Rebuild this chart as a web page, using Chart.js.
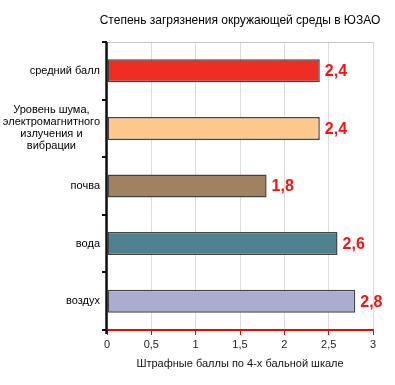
<!DOCTYPE html>
<html>
<head>
<meta charset="utf-8">
<script src="https://cdn.jsdelivr.net/npm/chart.js@4"></script>
<style>
  body { margin: 0; background: #fff; }
  canvas { display: block; }
</style>
</head>
<body>
<canvas id="myChart" width="395" height="385"></canvas>
<script>
const ctx = document.getElementById('myChart');

// данные
var categories = [
  ['средний балл'],
  ['Уровень шума,', 'электромагнитного', 'излучения и', 'вибрации'],
  ['почва'],
  ['вода'],
  ['воздух']
];
var values = [2.4, 2.4, 1.8, 2.6, 2.8];
var barColors = ['#EE2D25', '#FFC98B', '#A08260', '#4F8190', '#A9AECF'];
var xTicks = [0, 0.5, 1, 1.5, 2, 2.5, 3];
var chartTitle = 'Степень загрязнения окружающей среды в ЮЗАО';
var xTitle = 'Штрафные баллы по 4-х бальной шкале';

function fmt(v) {
  return v.toString().replace('.', ',');
}

// подписи, заголовок, рамка, ось категорий
var extras = {
  id: 'extras',
  afterDraw: function(chart) {
    var c = chart.ctx;
    var area = chart.chartArea;
    var yScale = chart.scales.y;
    c.save();

    // верхняя рамка
    c.strokeStyle = '#c8c8c8';
    c.lineWidth = 1;
    c.beginPath();
    c.moveTo(area.left, area.top + 0.5);
    c.lineTo(area.right, area.top + 0.5);
    c.stroke();

    // ось категорий и засечки
    c.strokeStyle = '#111';
    c.lineWidth = 2.5;
    c.beginPath();
    c.moveTo(area.left - 0.5, area.top);
    c.lineTo(area.left - 0.5, area.bottom + 4);
    c.stroke();
    c.lineWidth = 2;
    for (var k = 0; k <= categories.length; k++) {
      var ty = Math.round(yScale.getPixelForValue(k - 0.5));
      c.beginPath();
      c.moveTo(area.left - 5, ty);
      c.lineTo(area.left, ty);
      c.stroke();
    }

    // заголовок
    c.fillStyle = '#000';
    c.font = '12px "Liberation Sans", Arial, sans-serif';
    c.textAlign = 'center';
    c.textBaseline = 'middle';
    c.fillText(chartTitle, (area.left + area.right) / 2, 21);

    // подписи категорий
    c.font = '11px "Liberation Sans", Arial, sans-serif';
    categories.forEach(function(lines, i) {
      var y = yScale.getPixelForValue(i);
      var widest = 0;
      lines.forEach(function(l) { widest = Math.max(widest, c.measureText(l).width); });
      var cx = area.left - 7 - widest / 2;
      var lh = 12;
      var y0 = y - (lines.length - 1) * lh / 2;
      lines.forEach(function(l, j) {
        c.fillText(l, cx, y0 + j * lh);
      });
    });

    // значения
    var meta = chart.getDatasetMeta(0);
    c.fillStyle = '#FF1010';
    c.font = 'bold 16px "Liberation Sans", Arial, sans-serif';
    c.textAlign = 'left';
    meta.data.forEach(function(bar, i) {
      c.fillText(fmt(values[i]), bar.x + 5, bar.y + 1);
    });
    c.restore();
  }
};

var graphData = {
  type: 'bar',
  data: {
    labels: categories.map(function(l) { return l.join(' '); }),
    datasets: [{
      data: values,
      backgroundColor: barColors,
      borderColor: '#444',
      borderWidth: 1.5,
      borderSkipped: false,
      barPercentage: 0.4,
      categoryPercentage: 1
    }]
  },
  options: {
    indexAxis: 'y',
    responsive: false,
    animation: false,
    layout: { padding: { top: 42, right: 22, left: 0, bottom: 0 } },
    plugins: {
      legend: { display: false },
      tooltip: { enabled: false }
    },
    scales: {
      x: {
        min: 0,
        max: 3,
        afterBuildTicks: function(scale) {
          scale.ticks = xTicks.map(function(v) { return { value: v }; });
        },
        afterFit: function(scale) { scale.height = 55; },
        grid: { color: '#dcdcdc', tickColor: '#ff0000', tickLength: 5 },
        border: { color: '#ff0000', width: 2 },
        ticks: {
          color: '#222',
          padding: 3,
          font: { size: 11, family: '"Liberation Sans", Arial, sans-serif' },
          callback: function(v) { return fmt(v); }
        },
        title: {
          display: true,
          text: xTitle,
          color: '#111',
          padding: { top: 0, bottom: 14 },
          font: { size: 11, family: '"Liberation Sans", Arial, sans-serif' }
        }
      },
      y: {
        afterFit: function(scale) { scale.width = 107; },
        grid: { display: false },
        border: { display: false },
        ticks: { display: false }
      }
    }
  },
  plugins: [extras]
};

var myChart = new Chart(ctx, graphData);
</script>
</body>
</html>
